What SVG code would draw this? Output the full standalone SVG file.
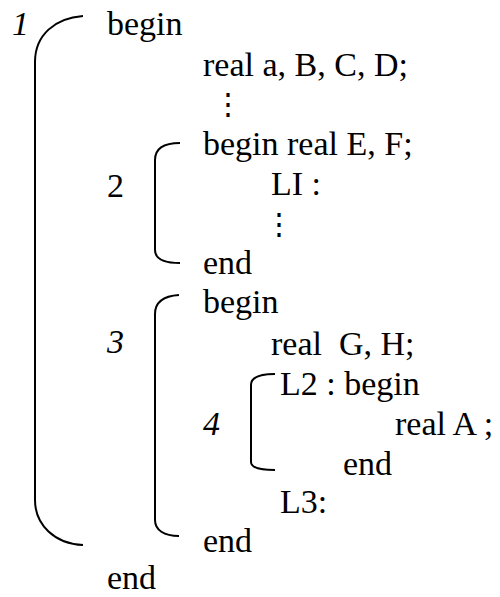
<svg xmlns="http://www.w3.org/2000/svg" width="500" height="597" viewBox="0 0 500 597">
<style>
text{font-family:"Liberation Serif","Times New Roman",serif;font-size:34px;fill:#000}
.it{font-style:italic}
.dots{font-family:"DejaVu Serif","Liberation Serif",serif;font-size:30px}
.br{fill:none;stroke:#000;stroke-width:2}
</style>
<rect width="500" height="597" fill="#fff"/>
<g id="connectors">
<path id="bracket1" class="br" d="M83,16 C55,18 35,35 35,62 L35,500 C35,525 55,544 83,545"/>
<path id="bracket2" class="br" d="M180,143 C165,143 155,148 155,160 L155,250 C155,260 165,263 180,263"/>
<path id="bracket3" class="br" d="M179,295 C164,296 155,302 155,314 L155,520 C155,530 164,536 179,536"/>
<path id="bracket4" class="br" d="M275,374 C260,374 251,377 251,385 L251,462 C251,468 260,470 275,470"/>
</g>
<g id="block1">
<text class="it" x="12" y="35">1</text>
<text x="107" y="35">begin</text>
<text x="203" y="76">real a, B, C, D;</text>
<text class="dots" x="213" y="114">⋮</text>
<text x="107" y="589">end</text>
</g>
<g id="block2">
<text x="107" y="197">2</text>
<text x="203" y="155">begin real E, F;</text>
<text x="271" y="195">LI :</text>
<text class="dots" x="264" y="234">⋮</text>
<text x="203" y="274">end</text>
</g>
<g id="block3">
<text class="it" x="107" y="353">3</text>
<text x="203" y="313">begin</text>
<text x="271" y="355" xml:space="preserve">real  G, H;</text>
<text x="280" y="513">L3:</text>
<text x="203" y="552">end</text>
</g>
<g id="block4">
<text class="it" x="203" y="435">4</text>
<text x="280" y="395">L2 : begin</text>
<text x="395" y="435">real A ;</text>
<text x="343" y="475">end</text>
</g>
</svg>
